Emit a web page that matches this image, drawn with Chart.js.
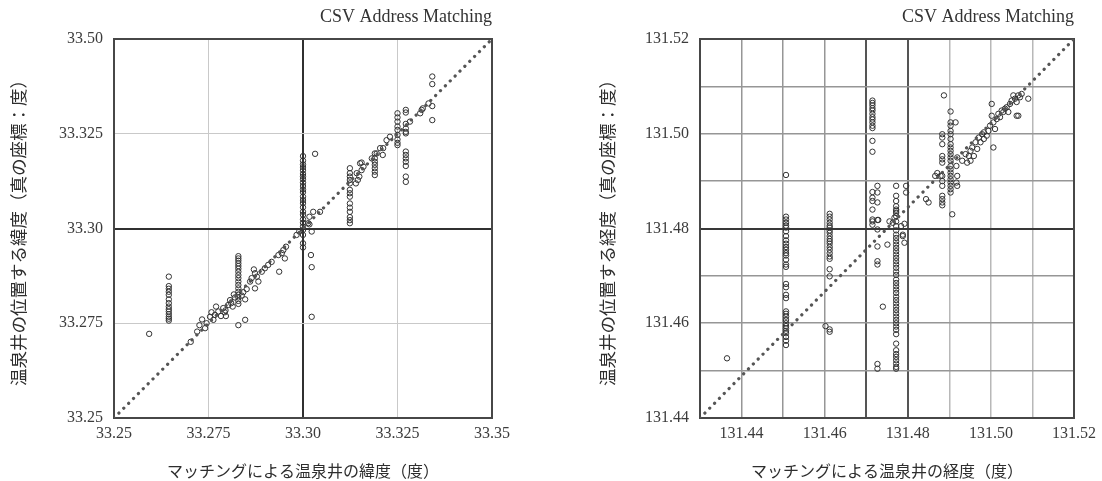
<!DOCTYPE html>
<html>
<head>
<meta charset="utf-8">
<script src="https://cdn.jsdelivr.net/npm/chart.js@4.4.1/dist/chart.umd.min.js"></script>
<style>
  html, body { margin: 0; padding: 0; background: #ffffff; }
  #wrap { display: flex; width: 1102px; height: 481px; }
  canvas { display: block; }
</style>
</head>
<body>
<div id="wrap">
  <canvas id="latChart" width="551" height="481"></canvas>
  <canvas id="lonChart" width="551" height="481"></canvas>
</div>
<script>
// ---------- Latitude (緯度): matched value (x) vs. true value (y) ----------
const latTicks = [33.25, 33.275, 33.30, 33.325, 33.35];
const latXLabels = ['33.25', '33.275', '33.30', '33.325', '33.35'];
const latYLabels = ['33.25', '33.275', '33.30', '33.325', '33.50'];
const latDiagonal = [[33.25, 33.25], [33.35, 33.35]];

// wells that share one matched latitude: [matched x, [true y ...]]
const latColumns = [
  [33.2645, [33.2873, 33.2848, 33.2841, 33.2833, 33.2825, 33.2813, 33.2803, 33.2794, 33.2787, 33.2781, 33.2774, 33.2767, 33.2762, 33.2757]],
  [33.2829, [33.2927, 33.2921, 33.2915, 33.2908, 33.2901, 33.2894, 33.2886, 33.2877, 33.2869, 33.2860, 33.2851, 33.2842, 33.2833, 33.2825, 33.2818, 33.2809, 33.2801]],
  [33.3000, [33.3191, 33.3179, 33.3169, 33.3162, 33.3154, 33.3144, 33.3137, 33.3130, 33.3121, 33.3112, 33.3103, 33.3096, 33.3084, 33.3075, 33.3067, 33.3056, 33.3044, 33.3036, 33.3024, 33.3015, 33.3005, 33.2996, 33.2983, 33.2961, 33.2950]],
  [33.3124, [33.3159, 33.3146, 33.3137, 33.3128, 33.3119, 33.3102, 33.3093, 33.3084, 33.3066, 33.3055, 33.3044, 33.3030, 33.3022, 33.3014]],
  [33.3190, [33.3198, 33.3185, 33.3176, 33.3168, 33.3159, 33.3150, 33.3141]],
  [33.3250, [33.3304, 33.3293, 33.3282, 33.3269, 33.3260, 33.3247, 33.3235, 33.3226, 33.3220]],
  [33.3272, [33.3313, 33.3306, 33.3276, 33.3264, 33.3255, 33.3251, 33.3203, 33.3194, 33.3185, 33.3176, 33.3165, 33.3137, 33.3123]],
  [33.3342, [33.3401, 33.3381, 33.3323, 33.3286]]
];

// remaining individual wells: [matched x, true y]
const latPoints = [
  [33.2593, 33.2722],
  [33.2703, 33.2701], [33.2720, 33.2728], [33.2726, 33.2745], [33.2733, 33.2760], [33.2741, 33.2737],
  [33.2745, 33.2750], [33.2754, 33.2767], [33.2758, 33.2779], [33.2763, 33.2759], [33.2767, 33.2772],
  [33.2770, 33.2794], [33.2776, 33.2781], [33.2783, 33.2769], [33.2789, 33.2790], [33.2793, 33.2779],
  [33.2795, 33.2784], [33.2796, 33.2769], [33.2802, 33.2798], [33.2807, 33.2811], [33.2810, 33.2803],
  [33.2814, 33.2794], [33.2817, 33.2826], [33.2820, 33.2818], [33.2829, 33.2745], [33.2838, 33.2823],
  [33.2842, 33.2832], [33.2847, 33.2813], [33.2847, 33.2759], [33.2851, 33.2840], [33.2860, 33.2860],
  [33.2864, 33.2869], [33.2870, 33.2892], [33.2873, 33.2882], [33.2873, 33.2842], [33.2878, 33.2873],
  [33.2882, 33.2860], [33.2891, 33.2886], [33.2899, 33.2895], [33.2908, 33.2904], [33.2917, 33.2912],
  [33.2937, 33.2886], [33.2935, 33.2930], [33.2944, 33.2935], [33.2948, 33.2943], [33.2952, 33.2921],
  [33.2955, 33.2952], [33.2983, 33.2983], [33.2990, 33.2992],
  [33.3014, 33.3014], [33.3017, 33.3011], [33.3023, 33.2992], [33.3021, 33.2930], [33.3023, 33.2898],
  [33.3023, 33.2767], [33.3017, 33.3031], [33.3027, 33.3044], [33.3045, 33.3044], [33.3032, 33.3197],
  [33.3142, 33.3146], [33.3149, 33.3137], [33.3155, 33.3154], [33.3151, 33.3172], [33.3155, 33.3174],
  [33.3160, 33.3163], [33.3140, 33.3119], [33.3145, 33.3128],
  [33.3182, 33.3185], [33.3195, 33.3198], [33.3204, 33.3212], [33.3211, 33.3194], [33.3212, 33.3212],
  [33.3221, 33.3233], [33.3230, 33.3242],
  [33.3283, 33.3282], [33.3310, 33.3304], [33.3314, 33.3313], [33.3317, 33.3317], [33.3332, 33.3330]
];

// ---------- Longitude (経度): matched value (x) vs. true value (y) ----------
const lonXTicks = [131.43, 131.44, 131.45, 131.46, 131.47, 131.48, 131.49, 131.50, 131.51, 131.52];
const lonXLabels = ['', '131.44', '', '131.46', '', '131.48', '', '131.50', '', '131.52'];
const lonYTicks = [131.44, 131.45, 131.46, 131.47, 131.48, 131.49, 131.50, 131.51, 131.52];
const lonYLabels = ['131.44', '', '131.46', '', '131.48', '', '131.50', '', '131.52'];
const lonDiagonal = [[131.43, 131.44], [131.52, 131.52]];

const lonColumns = [
  [131.4507, [131.4913, 131.4825, 131.4819, 131.4812, 131.4806, 131.4802, 131.4794, 131.4784, 131.4775, 131.4768, 131.4761, 131.4755, 131.4748, 131.4743, 131.4734, 131.4724, 131.4719, 131.4683, 131.4676, 131.4660, 131.4653, 131.4625, 131.4620, 131.4614, 131.4607, 131.4600, 131.4594, 131.4589, 131.4584, 131.4579, 131.4571, 131.4563, 131.4554]],
  [131.4612, [131.4831, 131.4825, 131.4819, 131.4812, 131.4806, 131.4802, 131.4796, 131.4791, 131.4784, 131.4778, 131.4773, 131.4768, 131.4761, 131.4755, 131.4748, 131.4741, 131.4736, 131.4714, 131.4699, 131.4587, 131.4582]],
  [131.4715, [131.5070, 131.5065, 131.5060, 131.5054, 131.5049, 131.5042, 131.5035, 131.5030, 131.5024, 131.5017, 131.5012, 131.4985, 131.4962, 131.4877, 131.4865, 131.4858, 131.4840, 131.4819, 131.4815, 131.4808]],
  [131.4727, [131.4890, 131.4876, 131.4855, 131.4818, 131.4798, 131.4762, 131.4731, 131.4724, 131.4514, 131.4504]],
  [131.4772, [131.4890, 131.4869, 131.4858, 131.4847, 131.4837, 131.4840, 131.4833, 131.4826, 131.4815, 131.4805, 131.4796, 131.4787, 131.4780, 131.4773, 131.4766, 131.4759, 131.4752, 131.4745, 131.4738, 131.4731, 131.4724, 131.4717, 131.4709, 131.4702, 131.4692, 131.4685, 131.4678, 131.4671, 131.4664, 131.4656, 131.4649, 131.4642, 131.4635, 131.4628, 131.4621, 131.4614, 131.4607, 131.4600, 131.4593, 131.4586, 131.4577, 131.4557, 131.4543, 131.4535, 131.4529, 131.4522, 131.4515, 131.4508, 131.4504]],
  [131.4883, [131.4999, 131.4992, 131.4978, 131.4953, 131.4946, 131.4939, 131.4911, 131.4900, 131.4890, 131.4869, 131.4862, 131.4855, 131.4849]],
  [131.4903, [131.5047, 131.5024, 131.5017, 131.5006, 131.4999, 131.4989, 131.4978, 131.4971, 131.4964, 131.4957, 131.4950, 131.4943, 131.4932, 131.4925, 131.4918, 131.4911, 131.4904, 131.4897, 131.4890, 131.4883, 131.4876]]
];

const lonPoints = [
  [131.4365, 131.4526], [131.4602, 131.4594],
  [131.4740, 131.4635], [131.4751, 131.4766], [131.4729, 131.4818], [131.4756, 131.4815],
  [131.4764, 131.4812], [131.4768, 131.4823], [131.4784, 131.4805], [131.4788, 131.4787],
  [131.4788, 131.4784], [131.4792, 131.4770], [131.4792, 131.4810], [131.4796, 131.4890], [131.4796, 131.4876],
  [131.4844, 131.4862], [131.4850, 131.4855], [131.4866, 131.4911], [131.4871, 131.4917], [131.4879, 131.4911],
  [131.4887, 131.5081], [131.4907, 131.4830], [131.4915, 131.5024], [131.4917, 131.4932], [131.4919, 131.4911],
  [131.4917, 131.4897], [131.4919, 131.4890],
  [131.4919, 131.4950], [131.4931, 131.4943], [131.4939, 131.4957], [131.4943, 131.4939], [131.4947, 131.4953],
  [131.4951, 131.4943], [131.4951, 131.4964], [131.4955, 131.4971], [131.4959, 131.4953], [131.4963, 131.4982],
  [131.4967, 131.4968], [131.4971, 131.4992], [131.4975, 131.4982], [131.4979, 131.4999], [131.4983, 131.4989],
  [131.4983, 131.5003], [131.4990, 131.4996], [131.4994, 131.5006], [131.4998, 131.5017], [131.5002, 131.5038],
  [131.5002, 131.5063], [131.5006, 131.5024], [131.5006, 131.4971], [131.5010, 131.5010], [131.5014, 131.5031],
  [131.5018, 131.5042], [131.5022, 131.5035], [131.5026, 131.5049], [131.5030, 131.5046], [131.5034, 131.5053],
  [131.5038, 131.5056], [131.5042, 131.5046], [131.5046, 131.5063], [131.5050, 131.5070], [131.5054, 131.5081],
  [131.5058, 131.5074], [131.5062, 131.5067], [131.5062, 131.5038], [131.5066, 131.5081], [131.5066, 131.5038],
  [131.5070, 131.5077], [131.5074, 131.5084], [131.5090, 131.5074]
];

// ---------- shared drawing helpers ----------
const TICK_FONT = { family: '"Liberation Serif", "Times New Roman", serif', size: 16 };
const JP_FONT = '"Noto Sans CJK JP", "Noto Sans", sans-serif';

function toPoints(columns, singles) {
  const pts = [];
  columns.forEach(([x, ys]) => ys.forEach(y => pts.push({ x, y })));
  singles.forEach(([x, y]) => pts.push({ x, y }));
  return pts;
}

const near = (a, b) => Math.abs(a - b) < 1e-7;

// outline of the plot area plus the caption above its right edge
const frameAndCaption = {
  id: 'frameAndCaption',
  beforeDatasetsDraw(chart) {
    const { ctx, chartArea: a } = chart;
    ctx.save();
    ctx.strokeStyle = '#474747';
    ctx.lineWidth = 2;
    ctx.strokeRect(a.left, a.top, a.right - a.left, a.bottom - a.top);
    ctx.restore();
  },
  afterDraw(chart) {
    const { ctx, chartArea: a } = chart;
    ctx.save();
    ctx.fillStyle = '#333333';
    ctx.font = '18px "Liberation Serif", "Times New Roman", serif';
    ctx.textAlign = 'right';
    ctx.textBaseline = 'middle';
    ctx.fillText('CSV Address Matching', a.right, 17);
    ctx.restore();
  }
};

function makeChart(id, cfg) {
  return new Chart(document.getElementById(id), {
    type: 'scatter',
    data: {
      datasets: [
        {
          data: toPoints(cfg.columns, cfg.points),
          pointStyle: 'circle',
          pointRadius: 2.7,
          pointHoverRadius: 2.7,
          pointBorderWidth: 1,
          borderColor: '#333333',
          backgroundColor: 'rgba(255,255,255,0)',
          order: 1
        },
        {
          data: cfg.diagonal.map(([x, y]) => ({ x, y })),
          showLine: true,
          pointRadius: 0,
          borderColor: '#555555',
          borderWidth: 3.2,
          borderDash: [0.1, 6.8],
          borderCapStyle: 'round',
          fill: false,
          order: 0
        }
      ]
    },
    options: {
      responsive: false,
      animation: false,
      devicePixelRatio: 1,
      layout: { padding: { top: 39, right: cfg.padRight, left: 0, bottom: 0 } },
      plugins: { legend: { display: false }, tooltip: { enabled: false }, title: { display: false } },
      scales: {
        x: {
          type: 'linear',
          min: cfg.xTicks[0],
          max: cfg.xTicks[cfg.xTicks.length - 1],
          afterBuildTicks: s => { s.ticks = cfg.xTicks.map(v => ({ value: v })); },
          afterFit: s => { s.height = 63; },
          ticks: {
            autoSkip: false, maxRotation: 0, padding: 6, color: '#3c3c3c', font: TICK_FONT,
            callback: (v, i) => cfg.xLabels[i]
          },
          grid: { drawTicks: false, color: ctx => cfg.xGridColor(ctx.tick.value), lineWidth: ctx => cfg.xGridWidth(ctx.tick.value) },
          border: { display: false },
          title: {
            display: true, text: cfg.xTitle, color: '#2e2e2e',
            padding: { top: 0, bottom: cfg.xTitlePad }, font: { family: JP_FONT, size: 16 }
          }
        },
        y: {
          type: 'linear',
          min: cfg.yTicks[0],
          max: cfg.yTicks[cfg.yTicks.length - 1],
          afterBuildTicks: s => { s.ticks = cfg.yTicks.map(v => ({ value: v })); },
          afterFit: s => { s.width = cfg.yWidth; },
          ticks: {
            autoSkip: false, padding: 11, color: '#3c3c3c', font: TICK_FONT,
            callback: (v, i) => cfg.yLabels[i]
          },
          grid: { drawTicks: false, color: ctx => cfg.yGridColor(ctx.tick.value), lineWidth: ctx => cfg.yGridWidth(ctx.tick.value) },
          border: { display: false },
          title: {
            display: true, text: cfg.yTitle, color: '#2e2e2e',
            padding: { top: cfg.yTitlePad, bottom: 0 }, font: { family: JP_FONT, size: 17.5 }
          }
        }
      }
    },
    plugins: [frameAndCaption]
  });
}

// latitude panel: light grid, heavy lines through 33.30
makeChart('latChart', {
  columns: latColumns, points: latPoints, diagonal: latDiagonal,
  xTicks: latTicks, xLabels: latXLabels, yTicks: latTicks, yLabels: latYLabels,
  xTitle: 'マッチングによる温泉井の緯度（度）',
  yTitle: '温泉井の位置する緯度（真の座標：度）',
  yWidth: 114, padRight: 59, yTitlePad: 8, xTitlePad: 0,
  xGridColor: v => near(v, 33.30) ? '#303030' : '#c9c9c9',
  xGridWidth: v => near(v, 33.30) ? 2 : 1,
  yGridColor: v => near(v, 33.30) ? '#303030' : '#c9c9c9',
  yGridWidth: v => near(v, 33.30) ? 2 : 1
});

// longitude panel: grid every 0.01, heavy lines near 131.47–131.48
makeChart('lonChart', {
  columns: lonColumns, points: lonPoints, diagonal: lonDiagonal,
  xTicks: lonXTicks, xLabels: lonXLabels, yTicks: lonYTicks, yLabels: lonYLabels,
  xTitle: 'マッチングによる温泉井の経度（度）',
  yTitle: '温泉井の位置する経度（真の座標：度）',
  yWidth: 149, padRight: 24, yTitlePad: 46, xTitlePad: 0,
  xGridColor: v => (near(v, 131.47) || near(v, 131.48)) ? '#555555' : (v > 131.485 ? '#b8b8b8' : '#969696'),
  xGridWidth: v => (near(v, 131.47) || near(v, 131.48)) ? 2 : 1.5,
  yGridColor: v => near(v, 131.48) ? '#383838' : '#969696',
  yGridWidth: v => near(v, 131.48) ? 2 : 1.5
});
</script>
</body>
</html>
